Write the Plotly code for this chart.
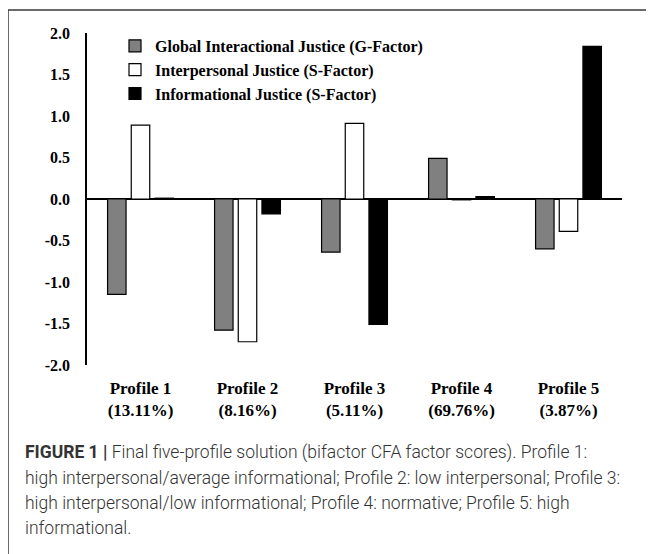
import plotly.graph_objects as go

categories = ["Profile 1<br>(13.11%)", "Profile 2<br>(8.16%)", "Profile 3<br>(5.11%)",
              "Profile 4<br>(69.76%)", "Profile 5<br>(3.87%)"]
series_names = ["Global Interactional Justice (G-Factor)",
                "Interpersonal Justice (S-Factor)",
                "Informational Justice (S-Factor)"]
global_g = [-1.15, -1.58, -0.64, 0.49, -0.60]
interpersonal_s = [0.89, -1.72, 0.91, -0.01, -0.39]
informational_s = [0.01, -0.18, -1.51, 0.03, 1.84]
y_tick_vals = [-2.0, -1.5, -1.0, -0.5, 0.0, 0.5, 1.0, 1.5, 2.0]
y_tick_text = ["-2.0", "-1.5", "-1.0", "-0.5", "0.0", "0.5", "1.0", "1.5", "2.0"]
caption_lines = [
    "<b>FIGURE 1 |</b> Final five-profile solution (bifactor CFA factor scores). Profile 1:",
    "high interpersonal/average informational; Profile 2: low interpersonal; Profile 3:",
    "high interpersonal/low informational; Profile 4: normative; Profile 5: high",
    "informational.",
]

fills = ["#808080", "#ffffff", "#000000"]
values = [global_g, interpersonal_s, informational_s]

OFF = 8  # page body margin
W, H = 654 - OFF, 554 - OFF
PL, PR, PT, PB = 87, 622, 33, 365  # plot box in page pixels
L, R, T, B = PL - OFF, W - (PR - OFF), PT - OFF, H - (PB - OFF)
pw, ph = PR - PL, PB - PT

def px(x):
    return (x - PL) / pw

def py(y):
    return (PB - y) / ph

fig = go.Figure()
for i, (name, vals, col) in enumerate(zip(series_names, values, fills)):
    fig.add_trace(go.Bar(
        x=categories, y=vals, name=name, legendgroup=f"g{i}",
        marker=dict(color=col, line=dict(color="#000000", width=1.2)),
    ))

serif = "Liberation Serif, Times New Roman, serif"
fig.update_layout(
    width=W, height=H,
    margin=dict(l=L, r=R, t=T, b=B, pad=0),
    paper_bgcolor="white", plot_bgcolor="white",
    barmode="group", bargap=0.336, bargroupgap=0.22,
    font=dict(family=serif, color="#000000"),
    showlegend=True,
    legend=dict(
        x=px(115), y=py(29), xanchor="left", yanchor="top",
        font=dict(family=serif, size=16, weight="bold", color="#000000"),
        traceorder="grouped", tracegroupgap=0, itemwidth=30,
        bgcolor="rgba(0,0,0,0)", borderwidth=0,
    ),
    xaxis=dict(
        showline=False, showgrid=False, zeroline=False, ticks="",
        tickfont=dict(family=serif, size=17, weight="bold"),
        ticklabelstandoff=11,
    ),
    yaxis=dict(
        range=[-2, 2], tickvals=y_tick_vals, ticktext=y_tick_text,
        showline=True, linecolor="#000000", linewidth=1.5,
        showgrid=False, zeroline=True, zerolinecolor="#000000", zerolinewidth=1.5,
        ticks="", ticklabelstandoff=12,
        tickfont=dict(family=serif, size=16, weight="bold"),
    ),
    shapes=[dict(type="rect", xref="paper", yref="paper",
                 x0=px(8), x1=px(680), y0=py(600), y1=py(10),
                 line=dict(color="#3a3a3a", width=1.5), fillcolor="rgba(0,0,0,0)",
                 layer="above")],
)

cap_y = [452, 478, 503, 528]
for line, yy in zip(caption_lines, cap_y):
    fig.add_annotation(
        text=line, xref="paper", yref="paper", x=px(23), y=py(yy),
        xanchor="left", yanchor="middle", showarrow=False, align="left",
        font=dict(family="Roboto, Liberation Sans, sans-serif", size=17.5,
                  weight=300, color="#333333"),
    )

fig.write_html("out.html")
